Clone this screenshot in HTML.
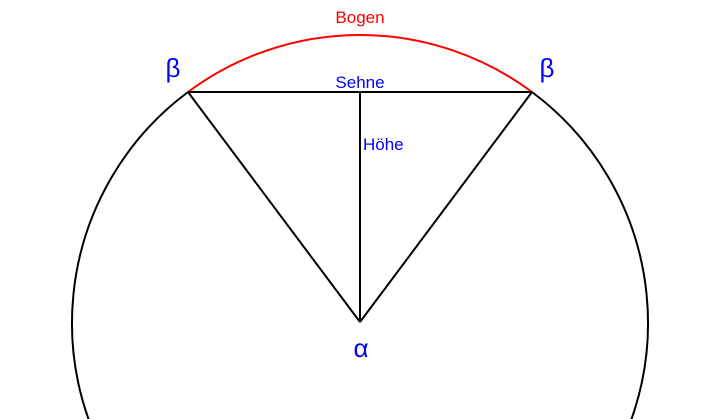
<!DOCTYPE html>
<html><head><style>html,body{margin:0;padding:0;background:#fff;width:719px;height:419px;overflow:hidden;}svg{display:block}</style></head>
<body>
<svg width="719" height="419" viewBox="0 0 719 419" xmlns="http://www.w3.org/2000/svg" font-family="Liberation Sans, sans-serif">
<path d="M188,92 A288,288 0 1,0 532,92" fill="none" stroke="#000" stroke-width="2"/>
<path d="M188,92 A288,288 0 0,1 532,92" fill="none" stroke="#f00" stroke-width="2"/>
<g stroke="#000" stroke-width="2" fill="none">
<line x1="188" y1="92" x2="532" y2="92"/>
<line x1="188" y1="92" x2="360" y2="322"/>
<line x1="532" y1="92" x2="360" y2="322"/>
<line x1="360" y1="92" x2="360" y2="322"/>
</g>
<text x="360" y="23" fill="#f00" font-size="17" text-anchor="middle">Bogen</text>
<text x="360" y="88" fill="#00f" font-size="17" text-anchor="middle">Sehne</text>
<text x="363" y="150" fill="#00f" font-size="17">Höhe</text>
<text x="173" y="77" fill="#00f" font-size="26" text-anchor="middle">β</text>
<text x="547" y="77" fill="#00f" font-size="26" text-anchor="middle">β</text>
<text x="361" y="357" fill="#00f" font-size="26" text-anchor="middle">α</text>
</svg>
</body></html>
